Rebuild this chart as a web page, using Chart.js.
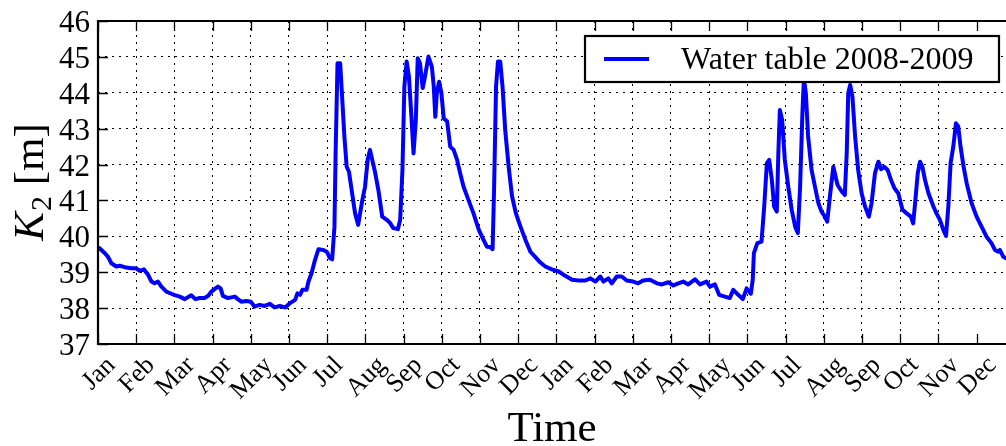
<!DOCTYPE html>
<html>
<head>
<meta charset="utf-8">
<script src="https://cdn.jsdelivr.net/npm/chart.js@4"></script>
<style>
  body { margin: 0; background: #fff; }
  canvas { display: block; }
</style>
</head>
<body>
<canvas id="grafico" width="1006" height="446"></canvas>
<script>
// eixo x em meses (0 = Jan 2008), eixo y em metros
const monthLabels = ['Jan','Feb','Mar','Apr','May','Jun','Jul','Aug','Sep','Oct','Nov','Dec',
                     'Jan','Feb','Mar','Apr','May','Jun','Jul','Aug','Sep','Oct','Nov','Dec']
const yTicks = [37, 38, 39, 40, 41, 42, 43, 44, 45, 46]
const seriesLabel = 'Water table 2008-2009'

const months = [0.04,0.18,0.26,0.35,0.48,0.57,0.70,0.87,1.00,1.09,1.20,1.31,1.40,1.48,1.57,1.66,1.79,1.92,2.01,2.14,
  2.27,2.44,2.55,2.66,2.79,2.88,2.97,3.05,3.14,3.21,3.27,3.40,3.49,3.58,3.66,3.75,3.88,4.00,4.10,4.23,4.36,
  4.50,4.62,4.76,4.90,5.03,5.16,5.22,5.29,5.35,5.46,5.51,5.59,5.68,5.77,5.90,5.99,6.07,6.13,6.19,6.22,
  6.27,6.34,6.40,6.45,6.51,6.57,6.64,6.73,6.81,6.92,6.99,7.06,7.12,7.18,7.25,7.34,7.44,7.56,7.64,7.73,
  7.85,7.91,7.97,8.02,8.08,8.14,8.21,8.26,8.32,8.37,8.43,8.50,8.56,8.65,8.74,
  8.79,8.83,8.87,8.93,8.99,9.05,9.14,9.22,9.31,9.40,9.48,9.57,9.70,9.83,9.97,10.07,10.18,10.27,10.33,10.37,
  10.42,10.47,10.53,10.59,10.66,10.75,10.84,10.94,11.06,11.19,11.32,11.45,11.58,11.71,11.88,12.06,12.23,12.41,12.58,12.76,
  12.89,13.02,13.15,
  13.23,13.36,13.45,13.58,13.71,13.84,14.01,14.14,14.27,14.45,14.63,14.76,14.93,15.06,15.19,15.32,15.45,15.63,15.76,15.93,
  16.02,16.15,16.26,16.41,16.54,16.63,16.76,16.88,16.98,17.09,17.14,17.17,17.26,17.37,17.44,17.51,17.57,
  17.64,17.70,17.77,17.81,17.85,17.91,17.98,18.07,18.16,18.25,18.32,18.38,18.44,18.48,18.53,18.59,18.68,18.77,18.86,18.94,
  19.03,19.09,19.16,19.25,19.31,19.36,19.47,19.55,19.60,19.64,19.69,19.75,19.82,19.90,19.99,20.08,20.18,20.25,20.34,20.43,
  20.50,20.58,20.67,20.76,20.85,20.95,21.06,21.17,21.28,21.34,21.39,21.46,21.52,21.58,21.65,21.74,
  21.87,21.95,22.04,22.13,22.20,22.26,22.32,22.39,22.46,22.52,22.58,22.66,22.74,22.87,23.00,23.13,23.26,23.39,23.48,23.57,
  23.61,23.70,23.77]

const level = [39.67,39.53,39.43,39.25,39.16,39.18,39.14,39.11,39.11,39.04,39.08,38.93,38.74,38.69,38.74,38.60,38.46,38.40,38.36,38.32,
  38.25,38.36,38.25,38.28,38.28,38.34,38.46,38.53,38.60,38.55,38.34,38.28,38.30,38.32,38.25,38.18,38.20,38.18,38.04,38.09,38.06,
  38.12,38.02,38.06,38.02,38.14,38.23,38.41,38.37,38.51,38.51,38.74,38.97,39.34,39.64,39.62,39.57,39.39,39.36,40.27,42.31,
  44.82,44.82,43.71,42.78,41.94,41.80,41.29,40.64,40.32,41.01,41.38,42.13,42.41,42.13,41.80,41.29,40.55,40.46,40.38,40.23,
  40.20,40.46,41.85,44.17,44.87,44.45,43.24,42.31,43.24,44.96,44.82,44.13,44.45,45.01,44.73,
  44.17,43.33,43.99,44.31,43.99,43.29,43.20,42.50,42.41,42.13,41.76,41.38,41.01,40.64,40.18,39.95,39.71,39.70,39.64,41.38,
  44.17,44.87,44.87,44.17,42.96,41.94,41.11,40.64,40.27,39.90,39.57,39.42,39.27,39.16,39.08,39.02,38.90,38.79,38.77,38.77,
  38.83,38.74,38.88,
  38.74,38.83,38.69,38.88,38.88,38.77,38.74,38.69,38.77,38.79,38.69,38.66,38.72,38.63,38.69,38.74,38.66,38.80,38.66,38.74,
  38.60,38.66,38.37,38.32,38.28,38.51,38.37,38.25,38.55,38.40,38.79,39.53,39.81,39.85,40.83,42.04,42.13,
  41.57,40.83,40.69,42.31,43.52,43.24,42.13,41.38,40.74,40.27,40.09,41.38,43.43,44.40,43.99,42.78,41.85,41.38,40.92,40.69,
  40.55,40.41,41.11,41.94,41.66,41.43,41.25,41.15,42.31,43.99,44.22,43.89,42.78,41.85,41.20,40.83,40.55,40.92,41.76,42.08,
  41.87,41.94,41.85,41.57,41.34,41.20,40.74,40.64,40.55,40.36,40.92,41.76,42.08,41.94,41.57,41.20,
  40.83,40.64,40.46,40.18,40.01,40.83,42.04,42.50,43.15,43.06,42.50,41.94,41.48,40.92,40.55,40.27,39.99,39.81,39.62,39.57,
  39.62,39.43,39.39]

const serif = '"Liberation Serif", "Times New Roman", serif'
const blue = '#0000ff'

// moldura, ticks para dentro, rótulos e títulos dos eixos
const molduraPlugin = {
  id: 'moldura',
  afterDatasetsDraw(chart) {
    const { ctx, chartArea: a, scales: { x, y } } = chart
    ctx.save()
    ctx.strokeStyle = '#000'
    ctx.lineWidth = 1.3
    ctx.beginPath()
    monthLabels.forEach((_, i) => {
      const px = Math.round(x.getPixelForValue(i)) + 0.5
      ctx.moveTo(px, a.bottom); ctx.lineTo(px, a.bottom - 10)
      ctx.moveTo(px, a.top); ctx.lineTo(px, a.top + 10)
    })
    yTicks.forEach(v => {
      const py = Math.round(y.getPixelForValue(v)) + 0.5
      ctx.moveTo(a.left, py); ctx.lineTo(a.left + 10, py)
    })
    ctx.stroke()

    ctx.lineWidth = 2.2
    ctx.beginPath()
    ctx.moveTo(a.right + 3, a.top)
    ctx.lineTo(a.left, a.top)
    ctx.lineTo(a.left, a.bottom)
    ctx.lineTo(a.right + 3, a.bottom)
    ctx.stroke()

    // rótulos do eixo y
    ctx.fillStyle = '#000'
    ctx.font = '31px ' + serif
    ctx.textAlign = 'right'
    ctx.textBaseline = 'alphabetic'
    yTicks.forEach(v => {
      ctx.fillText(String(v), a.left - 8, y.getPixelForValue(v) + 11)
    })

    // rótulos dos meses, inclinados a 45 graus e centrados no tick
    ctx.font = '26px ' + serif
    ctx.textAlign = 'center'
    ctx.textBaseline = 'middle'
    monthLabels.forEach((m, i) => {
      const w = ctx.measureText(m).width
      const cx = x.getPixelForValue(i) + 1
      const cy = a.bottom + 11 + (w + 18) * 0.707 / 2
      ctx.save()
      ctx.translate(cx, cy)
      ctx.rotate(-Math.PI / 4)
      ctx.fillText(m, 0, 0)
      ctx.restore()
    })

    // título do eixo x
    ctx.font = '43px ' + serif
    ctx.textBaseline = 'alphabetic'
    ctx.fillText('Time', (a.left + a.right) / 2, 441)

    // título do eixo y: K_2 [m]
    ctx.save()
    ctx.translate(43, (a.top + a.bottom) / 2)
    ctx.rotate(-Math.PI / 2)
    ctx.textAlign = 'left'
    const fK = 'italic 43px ' + serif
    const fSub = '30px ' + serif
    const fRest = '43px ' + serif
    ctx.font = fK; const wK = ctx.measureText('K').width
    ctx.font = fSub; const wS = ctx.measureText('2').width
    ctx.font = fRest; const wR = ctx.measureText(' [m]').width
    let sx = -(wK + wS + wR) / 2
    ctx.font = fK; ctx.fillText('K', sx, 0); sx += wK + 1
    ctx.font = fSub; ctx.fillText('2', sx, 8); sx += wS
    ctx.font = fRest; ctx.fillText(' [m]', sx, 0)
    ctx.restore()

    ctx.restore()
  },
  afterDraw(chart) {
    // legenda dentro do gráfico
    const { ctx } = chart
    const ds = chart.data.datasets[0]
    ctx.save()
    ctx.fillStyle = '#fff'
    ctx.fillRect(585, 36, 414, 46)
    ctx.strokeStyle = '#000'
    ctx.lineWidth = 2.2
    ctx.strokeRect(585, 36, 414, 46)
    ctx.strokeStyle = ds.borderColor
    ctx.lineWidth = ds.borderWidth
    ctx.beginPath()
    ctx.moveTo(604, 59); ctx.lineTo(649, 59)
    ctx.stroke()
    ctx.fillStyle = '#000'
    ctx.font = '32px ' + serif
    ctx.textBaseline = 'alphabetic'
    ctx.fillText(ds.label, 681, 69)
    ctx.restore()
  }
}

const data = {
  datasets: [{
    label: seriesLabel,
    data: months.map((m, i) => ({ x: m, y: level[i] })),
    borderColor: blue,
    borderWidth: 4,
    borderJoinStyle: 'round',
    borderCapStyle: 'round',
    pointRadius: 0,
    tension: 0,
    fill: false
  }]
}

const config = {
  type: 'line',
  data,
  options: {
    responsive: false,
    animation: false,
    layout: { padding: { left: 98, top: 21, right: 0, bottom: 102 } },
    plugins: { legend: { display: false }, tooltip: { enabled: false } },
    scales: {
      x: {
        type: 'linear',
        min: 0,
        max: 23.77,
        ticks: { display: false, stepSize: 1 },
        grid: { color: '#000', lineWidth: 1, drawTicks: false },
        border: { display: false, dash: [2, 5] }
      },
      y: {
        min: 37,
        max: 46,
        ticks: { display: false, stepSize: 1 },
        grid: { color: '#000', lineWidth: 1, drawTicks: false },
        border: { display: false, dash: [2, 5] }
      }
    }
  },
  plugins: [molduraPlugin]
}

const graph = new Chart(document.getElementById('grafico'), config)
</script>
</body>
</html>
